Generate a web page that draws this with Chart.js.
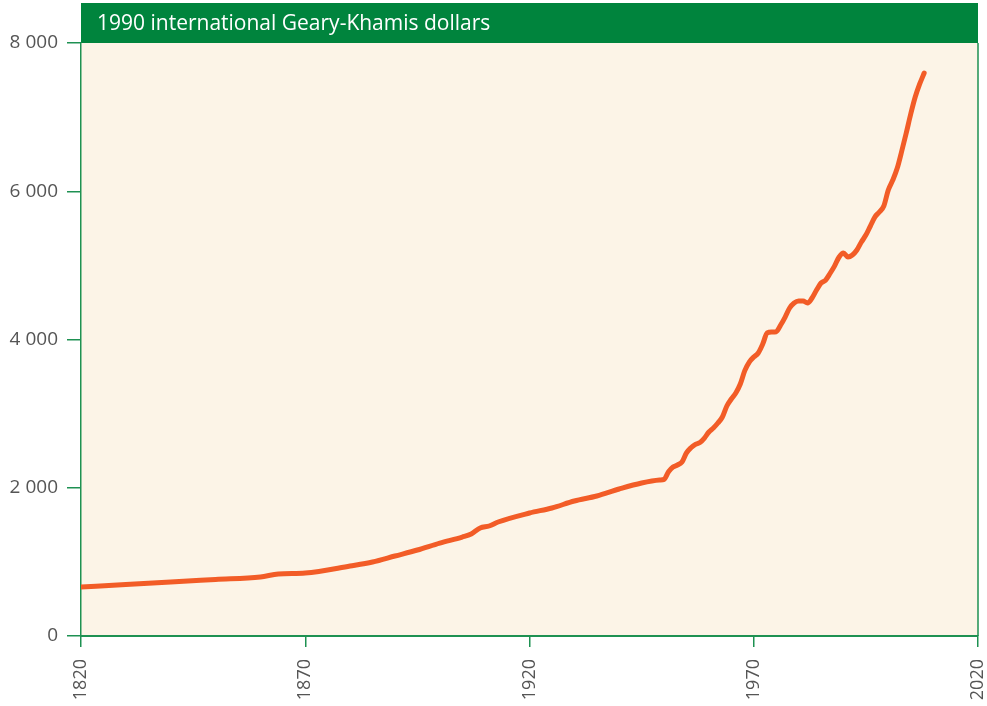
<!DOCTYPE html>
<html>
<head>
<meta charset="utf-8">
<script src="https://cdn.jsdelivr.net/npm/chart.js@4"></script>
<style>
  html, body { margin: 0; padding: 0; background: #fff; }
  #wrap { width: 987px; height: 706px; }
</style>
</head>
<body>
<div id="wrap"><canvas id="gdpChart" width="987" height="706"></canvas></div>
<script>
// World GDP per capita, 1990 international Geary-Khamis dollars
const years = [
  1820, 1830, 1840, 1850, 1860, 1864, 1870, 1880, 1885, 1890,
  1895, 1900, 1905, 1907, 1909, 1911, 1913, 1920, 1925, 1930,
  1935, 1940, 1945, 1949, 1950, 1951, 1952, 1953, 1954, 1955,
  1956, 1957, 1958, 1959, 1960, 1961, 1962, 1963, 1964, 1965,
  1966, 1967, 1968, 1969, 1970, 1971, 1972, 1973, 1974, 1975,
  1976, 1977, 1978, 1979, 1980, 1981, 1982, 1983, 1984, 1985,
  1986, 1987, 1988, 1989, 1990, 1991, 1992, 1993, 1994, 1995,
  1996, 1997, 1998, 1999, 2000, 2001, 2002, 2003, 2004, 2005,
  2006, 2007, 2008
];
const gdpPerCapita = [
  661, 695, 728, 762, 796, 836, 850, 944, 998, 1079,
  1160, 1254, 1335, 1376, 1457, 1484, 1538, 1659, 1727, 1821,
  1889, 1983, 2064, 2104, 2113, 2215, 2280, 2307, 2347, 2470,
  2540, 2585, 2610, 2671, 2752, 2806, 2873, 2954, 3103, 3197,
  3278, 3400, 3580, 3696, 3764, 3818, 3939, 4088, 4101, 4105,
  4195, 4303, 4425, 4492, 4519, 4519, 4492, 4560, 4667, 4762,
  4800, 4890, 4990, 5110, 5167, 5113, 5140, 5207, 5315, 5409,
  5531, 5652, 5720, 5801, 6017, 6151, 6313, 6543, 6786, 7042,
  7271, 7447, 7595
];
const xTicks = [1820, 1870, 1920, 1970, 2020];
const yTicks = [0, 2000, 4000, 6000, 8000];
const headerText = "1990 international Geary-Khamis dollars";

const green = '#00843D';
const axisGreen = '#1E9152';
const fontFamily = "'Open Sans', 'Noto Sans', sans-serif";

const panelPlugin = {
  id: 'panel',
  beforeDraw(chart) {
    const { ctx, chartArea: a } = chart;
    ctx.save();
    ctx.fillStyle = '#FCF4E7';
    ctx.fillRect(a.left, a.top, a.right - a.left, a.bottom - a.top);
    ctx.fillStyle = green;
    ctx.fillRect(a.left, 3, a.right - a.left, a.top - 3);
    ctx.fillStyle = '#ffffff';
    ctx.font = "21px " + fontFamily;
    ctx.textBaseline = 'middle';
    ctx.fillText(headerText, a.left + 16, (a.top + 3) / 2 + 1);
    ctx.restore();
  },
  afterDraw(chart) {
    const { ctx, chartArea: a } = chart;
    ctx.save();
    ctx.strokeStyle = axisGreen;
    ctx.lineWidth = 1.5;
    ctx.beginPath();
    ctx.moveTo(a.right, a.top);
    ctx.lineTo(a.right, a.bottom);
    ctx.stroke();
    ctx.restore();
  }
};

const ctx = document.getElementById('gdpChart').getContext('2d');
new Chart(ctx, {
  type: 'line',
  data: {
    datasets: [{
      data: years.map((y, i) => ({ x: y, y: gdpPerCapita[i] })),
      borderColor: '#F25C27',
      borderWidth: 5,
      borderCapStyle: 'round',
      borderJoinStyle: 'round',
      pointRadius: 0,
      cubicInterpolationMode: 'monotone',
      fill: false
    }]
  },
  options: {
    responsive: false,
    animation: false,
    layout: { padding: { top: 43, right: 9, left: 0, bottom: 0 } },
    plugins: { legend: { display: false }, tooltip: { enabled: false } },
    scales: {
      x: {
        type: 'linear',
        min: 1820,
        max: 2020,
        afterBuildTicks(scale) { scale.ticks = xTicks.map(v => ({ value: v })); },
        afterFit(scale) {
          scale.height = 70;
          scale.paddingLeft = 0;
          scale.paddingRight = 0;
        },
        border: { color: axisGreen, width: 2 },
        grid: { drawOnChartArea: false, drawTicks: true, tickLength: 11, color: axisGreen, lineWidth: 1.5 },
        ticks: {
          minRotation: 90, maxRotation: 90,
          color: '#555555', font: { family: fontFamily, size: 18 }, padding: 12,
          callback: v => String(v)
        }
      },
      y: {
        min: 0,
        max: 8000,
        afterBuildTicks(scale) { scale.ticks = yTicks.map(v => ({ value: v })); },
        afterFit(scale) {
          scale.width = 81;
          scale.paddingTop = 0;
          scale.paddingBottom = 0;
        },
        border: { color: axisGreen, width: 1.5 },
        grid: { drawOnChartArea: false, drawTicks: true, tickLength: 14, color: axisGreen, lineWidth: 1.5 },
        ticks: {
          color: '#555555', font: { family: fontFamily, size: 19 }, padding: 9,
          callback: v => String(v).replace(/\B(?=(\d{3})+(?!\d))/g, ' ')
        }
      }
    }
  },
  plugins: [panelPlugin]
});
</script>
</body>
</html>
